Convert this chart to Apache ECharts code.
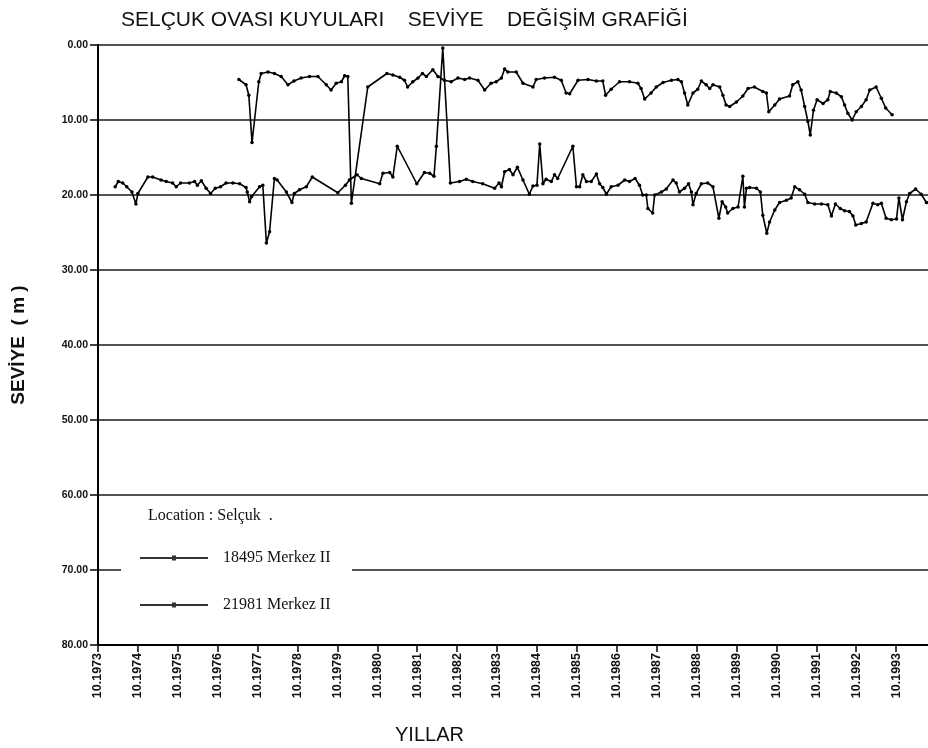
<!DOCTYPE html>
<html>
<head>
<meta charset="utf-8">
<script src="https://cdn.jsdelivr.net/npm/echarts@6/dist/echarts.min.js"></script>
<style>
  html, body { margin: 0; padding: 0; background: #fff; }
  #chart { width: 928px; height: 748px; }
</style>
</head>
<body>
<div id="chart"></div>
<script>
// ---- Data (decimal years, level in metres below surface) ----
const seriesNameA = '18495 Merkez II';
const seriesNameB = '21981 Merkez II';

const yearsA = [1974.18,1974.26,1974.37,1974.47,1974.60,1974.70,1974.75,1975.00,1975.12,1975.33,1975.46,1975.62,1975.71,1975.82,
  1976.04,1976.17,1976.24,1976.34,1976.46,1976.57,1976.69,1976.82,1976.96,1977.13,1977.30,1977.46,1977.49,1977.55,1977.60,
  1977.80,1977.88,1977.97,1978.05,1978.17,1978.24,1978.47,1978.61,1978.67,1978.80,1978.97,1979.12,1979.76,1979.95,1980.05,
  1980.24,1980.35,1980.81,1980.89,1981.06,1981.14,1981.25,1981.74,1981.93,1982.06,1982.17,1982.23,1982.39,1982.58,1982.81,
  1982.98,1983.14,1983.39,1983.69,1983.80,1983.86,1983.94,1984.06,1984.15,1984.26,1984.40,1984.56,1984.65,1984.75,1984.82,
  1984.90,1984.98,1985.11,1985.19,1985.27,1985.65,1985.74,1985.82,1985.90,1985.99,1986.11,1986.24,1986.32,1986.40,1986.49,
  1986.61,1986.78,1986.95,1987.07,1987.21,1987.32,1987.40,1987.49,1987.53,1987.65,1987.70,1987.87,1987.99,1988.16,1988.24,
  1988.32,1988.45,1988.55,1988.62,1988.66,1988.74,1988.87,1989.03,1989.16,1989.31,1989.39,1989.48,1989.53,1989.66,1989.79,
  1989.91,1989.95,1990.00,1990.08,1990.25,1990.35,1990.41,1990.51,1990.58,1990.71,1990.83,1991.00,1991.12,1991.21,1991.33,
  1991.46,1991.54,1991.71,1991.88,1992.04,1992.13,1992.23,1992.35,1992.46,1992.58,1992.67,1992.74,1992.88,1993.00,1993.17,
  1993.29,1993.38,1993.50,1993.63,1993.76,1993.82,1993.91,1994.01,1994.09,1994.24,1994.38,1994.51];
const levelsA = [18.9,18.2,18.4,18.9,19.6,21.2,19.8,17.6,17.6,18.0,18.2,18.4,18.9,18.4,
  18.4,18.2,18.7,18.1,19.1,19.8,19.1,18.9,18.4,18.4,18.5,19.0,19.6,20.9,20.2,
  18.9,18.7,26.4,24.9,17.8,18.0,19.6,21.0,19.8,19.3,18.9,17.6,19.7,18.7,18.0,
  17.3,17.8,18.5,17.1,17.0,17.6,13.5,18.5,17.0,17.1,17.5,13.5,0.4,18.4,18.2,
  17.9,18.2,18.5,19.1,18.4,18.9,16.9,16.6,17.3,16.3,18.0,19.9,18.8,18.7,13.2,
  18.5,17.9,18.2,17.3,17.8,13.5,18.9,18.9,17.3,18.2,18.2,17.2,18.5,19.0,19.9,
  18.9,18.7,18.0,18.2,17.8,18.7,20.0,20.0,21.8,22.4,20.0,19.6,19.2,18.0,18.4,
  19.6,19.1,18.5,19.6,21.3,19.8,18.5,18.4,18.9,23.1,20.9,21.6,22.4,21.8,21.6,
  17.5,21.6,19.1,19.0,19.1,19.6,22.7,25.1,23.6,22.0,21.0,20.7,20.4,18.9,19.3,
  19.9,21.0,21.2,21.2,21.3,22.8,21.2,21.8,22.1,22.2,22.8,24.0,23.8,23.6,21.1,
  21.3,21.1,23.1,23.3,23.2,20.4,23.3,20.9,19.8,19.2,19.9,21.0];

const yearsB = [1977.28,1977.46,1977.53,1977.61,1977.78,1977.84,1978.01,1978.17,1978.34,1978.51,1978.66,1978.84,1979.05,
  1979.26,1979.47,1979.59,1979.72,1979.85,1979.93,1980.01,1980.10,1980.51,1980.99,1981.14,1981.31,1981.43,1981.51,1981.64,
  1981.77,1981.88,1981.98,1982.14,1982.27,1982.43,1982.60,1982.77,1982.94,1983.06,1983.27,1983.44,1983.60,1983.73,1983.86,
  1983.94,1984.02,1984.23,1984.40,1984.65,1984.73,1984.94,1985.19,1985.36,1985.48,1985.57,1985.78,1986.03,1986.24,1986.40,
  1986.47,1986.61,1986.82,1987.07,1987.28,1987.36,1987.45,1987.61,1987.74,1987.91,1988.12,1988.28,1988.37,1988.45,1988.53,
  1988.66,1988.78,1988.87,1988.99,1989.08,1989.16,1989.33,1989.41,1989.49,1989.58,1989.75,1989.91,1990.04,1990.20,1990.41,
  1990.50,1990.56,1990.71,1990.83,1991.08,1991.16,1991.29,1991.37,1991.46,1991.54,1991.60,1991.68,1991.77,1991.92,1992.04,
  1992.10,1992.25,1992.38,1992.46,1992.54,1992.65,1992.75,1992.88,1993.00,1993.09,1993.25,1993.38,1993.49,1993.65];
const levelsB = [4.6,5.3,6.7,13.0,4.9,3.8,3.6,3.8,4.2,5.3,4.8,4.4,4.2,
  4.2,5.3,6.0,5.1,4.9,4.1,4.2,21.1,5.6,3.8,4.0,4.3,4.7,5.6,4.9,
  4.4,3.8,4.2,3.3,4.2,4.7,4.9,4.4,4.6,4.4,4.7,6.0,5.1,4.9,4.4,
  3.2,3.6,3.6,5.1,5.6,4.6,4.4,4.3,4.7,6.4,6.5,4.7,4.6,4.8,4.8,
  6.7,5.9,4.9,4.9,5.1,5.8,7.2,6.4,5.6,5.0,4.7,4.6,4.9,6.4,8.0,
  6.4,5.9,4.8,5.3,5.8,5.3,5.6,6.7,8.0,8.2,7.6,6.8,5.8,5.6,6.2,
  6.4,8.9,8.0,7.2,6.8,5.3,4.9,6.0,8.2,10.2,12.0,8.7,7.3,7.8,7.3,
  6.2,6.4,6.9,8.0,9.1,10.0,8.9,8.2,7.3,6.0,5.6,7.1,8.4,9.3];

const xTickLabels = ['10.1973','10.1974','10.1975','10.1976','10.1977','10.1978','10.1979','10.1980','10.1981','10.1982',
  '10.1983','10.1984','10.1985','10.1986','10.1987','10.1988','10.1989','10.1990','10.1991','10.1992','10.1993'];
const startYear = 1973.75; // October 1973

const toPairs = (ys, vs) => ys.map((y, i) => [+(y - startYear).toFixed(3), vs[i]]);

const chart = echarts.init(document.getElementById('chart'));
const sansFont = '"Liberation Sans", Arial, sans-serif';
const lineSeries = (name, data) => ({
  name, type: 'line', data,
  symbol: 'circle', symbolSize: 3.5, showSymbol: true,
  lineStyle: { color: '#000', width: 1.6 },
  itemStyle: { color: '#000' },
  animation: false, z: 5
});

chart.setOption({
  backgroundColor: '#fff',
  animation: false,
  title: [
    { text: 'SELÇUK OVASI KUYULARI    SEVİYE    DEĞİŞİM GRAFİĞİ', left: 116, top: 5,
      textStyle: { fontFamily: sansFont, fontSize: 21, fontWeight: 'normal', color: '#111' } },
    { text: 'YILLAR', left: 390, top: 720,
      textStyle: { fontFamily: sansFont, fontSize: 20, fontWeight: 'normal', color: '#111' } }
  ],
  grid: { left: 98, right: 0, top: 45, bottom: 103, containLabel: false },
  legend: {
    orient: 'vertical', left: 135, top: 545,
    itemWidth: 68, itemHeight: 14, itemGap: 31,
    icon: 'path://M0,1.5L68,1.5L68,3.5L0,3.5Z M32,0L36,0L36,5L32,5Z',
    itemStyle: { color: '#333' },
    textStyle: { fontFamily: '"Liberation Serif", serif', fontSize: 16, color: '#111', padding: [0, 0, 0, 10] },
    data: [seriesNameA, seriesNameB]
  },
  xAxis: {
    type: 'value', min: 0, max: 20.8, interval: 1,
    axisLine: { onZero: false, lineStyle: { color: '#000', width: 2 } },
    axisTick: { length: 7, lineStyle: { color: '#000', width: 1.5 } },
    splitLine: { show: false },
    axisLabel: {
      rotate: 90, margin: 8, color: '#111', fontSize: 12.5, fontWeight: 'bold',
      fontFamily: sansFont, showMaxLabel: false,
      formatter: v => xTickLabels[Math.round(v)] || ''
    }
  },
  yAxis: {
    type: 'value', inverse: true, min: 0, max: 80, interval: 10,
    name: 'SEVİYE  ( m )', nameLocation: 'middle', nameGap: 70, nameRotate: 90,
    nameTextStyle: { fontFamily: sansFont, fontSize: 19, color: '#111', fontWeight: 'bold' },
    axisLine: { lineStyle: { color: '#000', width: 2 } },
    axisTick: { length: 8, lineStyle: { color: '#000', width: 1.5 } },
    splitLine: { lineStyle: { color: '#1a1a1a', width: 1.6 } },
    axisLabel: {
      margin: 10, color: '#111', fontSize: 10.5, fontWeight: 'bold',
      fontFamily: sansFont,
      formatter: v => v.toFixed(2)
    }
  },
  graphic: [
    { type: 'rect', left: 121, top: 563, shape: { width: 231, height: 14 }, style: { fill: '#fff' }, z: 100 },
    { type: 'text', left: 148, top: 508, z: 101,
      style: { text: 'Location : Selçuk  .', fontFamily: '"Liberation Serif", serif', fontSize: 16, fill: '#111' } }
  ],
  series: [
    lineSeries(seriesNameA, toPairs(yearsA, levelsA)),
    lineSeries(seriesNameB, toPairs(yearsB, levelsB))
  ]
});
</script>
</body>
</html>
